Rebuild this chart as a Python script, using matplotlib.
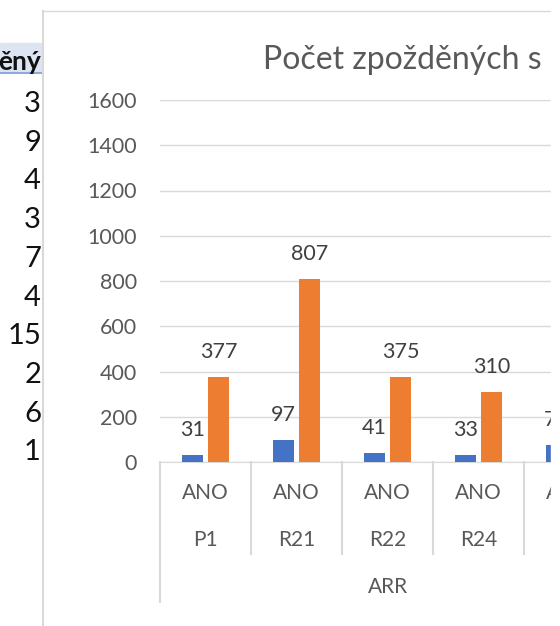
import numpy as np
import matplotlib.pyplot as plt
from matplotlib.patches import Rectangle
from matplotlib.lines import Line2D
from matplotlib.transforms import blended_transform_factory

plt.rcParams['font.family'] = ['Lato', 'DejaVu Sans']

# data
kategorie = ['P1', 'R21', 'R22', 'R24', 'R25']
stav = ['ANO', 'ANO', 'ANO', 'ANO', 'ANO']
skupina = 'ARR'
modra = [31, 97, 41, 33, 74]
oranzova = [377, 807, 375, 310, 520]
bunky = ['3', '9', '4', '3', '7', '4', '15', '2', '6', '1']
hlavicka = 'ěný'
titulek = 'Počet zpožděných s'

W, H = 560, 626
fig = plt.figure(figsize=(W / 100, H / 100), dpi=100)

def fx(px):
    return px / W

def fy(py):
    return 1 - py / H

# spreadsheet part on the left
fig.patches.append(Rectangle((0, fy(72)), fx(42), (72 - 43) / H,
                             transform=fig.transFigure, color='#DDE5F3', zorder=0))
fig.lines.append(Line2D([0, fx(42)], [fy(72.5), fy(72.5)], transform=fig.transFigure,
                        color='#8EA9DB', lw=1.5))
fig.text(fx(41), fy(62), hlavicka, ha='right', va='center', fontsize=19,
         fontweight='bold', color='#111111')
for i, b in enumerate(bunky):
    fig.text(fx(41), fy(104 + i * 38.7), b, ha='right', va='center',
             fontsize=21, color='#111111')

# chart border
fig.lines.append(Line2D([fx(43), fx(43)], [fy(11), 0], transform=fig.transFigure,
                        color='#D9D9D9', lw=1.5))
fig.lines.append(Line2D([fx(43), fx(551)], [fy(11), fy(11)], transform=fig.transFigure,
                        color='#D9D9D9', lw=1))

ax = fig.add_axes([fx(160), fy(462), 455 / W, 362 / H])
x = np.arange(len(kategorie))
bw = 0.23
b1 = ax.bar(x - 0.143, modra, bw, color='#4472C4', zorder=3)
b2 = ax.bar(x + 0.143, oranzova, bw, color='#ED7D31', zorder=3)
for bars, vals in [(b1, modra), (b2, oranzova)]:
    for r, v in zip(bars, vals):
        ax.annotate(str(v), (r.get_x() + r.get_width() / 2, v), xytext=(0, 18),
                    textcoords='offset points', ha='center', va='center',
                    fontsize=15.5, color='#404040')

ax.set_xlim(-0.5, len(kategorie) - 0.5)
ax.set_ylim(0, 1600)
ax.set_yticks(range(0, 1601, 200))
ax.yaxis.grid(True, color='#D9D9D9', lw=1)
ax.set_axisbelow(True)
for s in ['top', 'right', 'left']:
    ax.spines[s].set_visible(False)
ax.spines['bottom'].set_color('#D9D9D9')
ax.tick_params(axis='y', length=0, labelsize=15.5, labelcolor='#595959', pad=16.5)
ax.set_xticks([])

# multi-level category axis
tr = blended_transform_factory(ax.transData, fig.transFigure)
for i in range(len(kategorie) + 1):
    dolni = 602 if i in (0, len(kategorie)) else 554
    ax.add_line(Line2D([i - 0.5, i - 0.5], [fy(462), fy(dolni)], transform=tr,
                       color='#D9D9D9', lw=1.5, clip_on=False))
for i in range(len(kategorie)):
    ax.text(i, fy(493), stav[i], transform=tr, ha='center', va='center',
            fontsize=15, color='#595959')
    ax.text(i, fy(540), kategorie[i], transform=tr, ha='center', va='center',
            fontsize=15, color='#595959')
ax.text((len(kategorie) - 1) / 2, fy(587), skupina, transform=tr, ha='center',
        va='center', fontsize=15, color='#595959')

fig.text(fx(263), fy(60), titulek, ha='left', va='center', fontsize=23,
         color='#595959')

# white strip at the right edge of the screenshot
fig.patches.append(Rectangle((fx(551), 0), fx(9) + 0.01, 1, transform=fig.transFigure,
                             color='white', zorder=100))

fig.savefig('out.png', dpi=100)
